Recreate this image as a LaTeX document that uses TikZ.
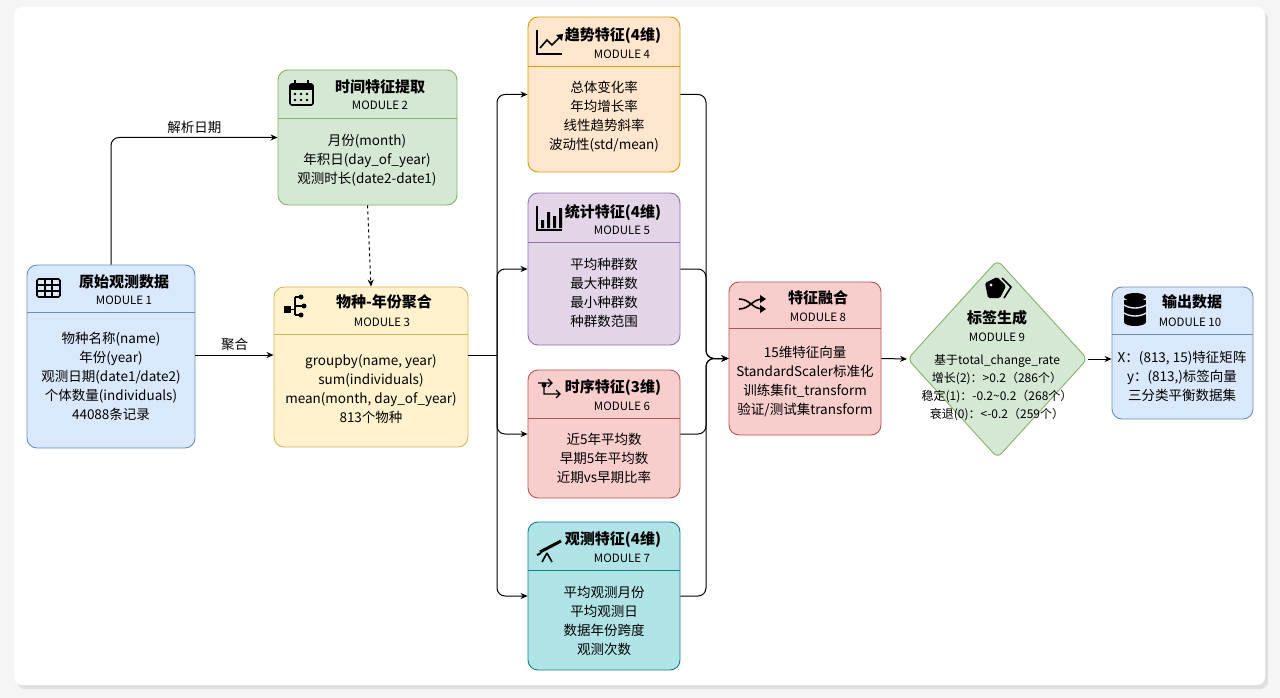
\documentclass[tikz,border=0pt]{standalone}
\usepackage{fontspec}
\setmainfont{Noto Sans CJK SC}
\usetikzlibrary{shapes.geometric,arrows.meta,calc}
\definecolor{bF}{HTML}{DAE8FC}\definecolor{bD}{HTML}{6C8EBF}
\definecolor{gF}{HTML}{D5E8D4}\definecolor{gD}{HTML}{82B366}
\definecolor{yF}{HTML}{FFF2CC}\definecolor{yD}{HTML}{D6B656}
\definecolor{oF}{HTML}{FFE6CC}\definecolor{oD}{HTML}{D79B00}
\definecolor{pF}{HTML}{E1D5E7}\definecolor{pD}{HTML}{9673A6}
\definecolor{rF}{HTML}{F8CECC}\definecolor{rD}{HTML}{B85450}
\definecolor{cF}{HTML}{B0E3E6}\definecolor{cD}{HTML}{0E8088}
\begin{document}
\begin{tikzpicture}[x=1pt,y=-1pt,
 box/.style={draw=#1,rounded corners=10pt,line width=0.9pt,inner sep=0pt},
 ttl/.style={font=\fontsize{15}{17}\selectfont\bfseries},
 mod/.style={font=\fontsize{11.5}{13}\selectfont},
 bd/.style={font=\fontsize{13.5}{16}\selectfont},
 arr/.style={-{Stealth[length=7pt,width=6pt]},line width=1pt,rounded corners=8pt},
 ic/.style={line width=1.6pt,black}]
\fill[gray!8] (0,0) rectangle (1280,698);
\useasboundingbox (0,0) rectangle (1280,698);
\fill[gray!25,rounded corners=8pt] (17,11) rectangle (1268,689);
\fill[white,rounded corners=8pt] (14,7) rectangle (1265,685);
% boxes
\node[box=bD,fill=bF,minimum width=168pt,minimum height=183pt] (m1) at (111,356.5) {};
\node[box=gD,fill=gF,minimum width=179pt,minimum height=135pt] (m2) at (367.5,137.5) {};
\node[box=yD,fill=yF,minimum width=194pt,minimum height=160pt] (m3) at (371,367) {};
\node[box=oD,fill=oF,minimum width=152pt,minimum height=155pt] (m4) at (604,94.5) {};
\node[box=pD,fill=pF,minimum width=152pt,minimum height=152pt] (m5) at (604,269) {};
\node[box=rD,fill=rF,minimum width=152pt,minimum height=128pt] (m6) at (604,434) {};
\node[box=cD,fill=cF,minimum width=152pt,minimum height=148pt] (m7) at (604,596) {};
\node[box=rD,fill=rF,minimum width=152pt,minimum height=153pt] (m8) at (805,358.5) {};
\node[draw=gD,fill=gF,line width=0.9pt,diamond,inner sep=0pt,minimum width=180pt,minimum height=198pt,rounded corners=6pt] (m9) at (997.5,359) {};
\node[box=bD,fill=bF,minimum width=141pt,minimum height=132pt] (m10) at (1182.5,353) {};
% header lines
\coordinate (h1) at (0,312);\coordinate (h2) at (0,118);\coordinate (h3) at (0,334);
\coordinate (h4) at (0,66);\coordinate (h5) at (0,242);\coordinate (h6) at (0,418);
\coordinate (h7) at (0,570);\coordinate (h8) at (0,328);\coordinate (h10) at (0,334);
\foreach \m/\h/\c in {m1/h1/bD,m2/h2/gD,m3/h3/yD,m4/h4/oD,m5/h5/pD,m6/h6/rD,m7/h7/cD,m8/h8/rD,m10/h10/bD}
  \draw[\c,line width=0.9pt] (\m.west|-\h) -- (\m.east|-\h);
% titles
\node[ttl] (t1) at (124,282) {原始观测数据};\node[mod] (u1) at (124,300) {MODULE 1};
\node[ttl] (t2) at (380,87) {时间特征提取};\node[mod] (u2) at (380,105) {MODULE 2};
\node[ttl] (t3) at (384,302) {物种-年份聚合};\node[mod] (u3) at (382,322) {MODULE 3};
\node[ttl] (t4) at (613,36) {趋势特征(4维)};\node[mod] (u4) at (622,54) {MODULE 4};
\node[ttl] (t5) at (613,213) {统计特征(4维)};\node[mod] (u5) at (622,230) {MODULE 5};
\node[ttl] (t6) at (613,388) {时序特征(3维)};\node[mod] (u6) at (622,406) {MODULE 6};
\node[ttl] (t7) at (613,540) {观测特征(4维)};\node[mod] (u7) at (622,558) {MODULE 7};
\node[ttl] (t8) at (818,298) {特征融合};\node[mod] (u8) at (818,317) {MODULE 8};
\node[ttl] (t9) at (997,318) {标签生成};\node[mod] (u9) at (997,337) {MODULE 9};
\node[ttl] (t10) at (1192,302) {输出数据};\node[mod] (u10) at (1190,322) {MODULE 10};
% bodies
\node[bd,align=center] (b1) at (111,376) {物种名称(name)\\[3pt]年份(year)\\[3pt]观测日期(date1/date2)\\[3pt]个体数量(individuals)\\[3pt]44088条记录};
\node[bd,align=center] (b2) at (367,160) {月份(month)\\[3pt]年积日(day\_of\_year)\\[3pt]观测时长(date2-date1)};
\node[bd,align=center] (b3) at (371,389) {groupby(name, year)\\[3pt]sum(individuals)\\[3pt]mean(month, day\_of\_year)\\[3pt]813个物种};
\node[bd,align=center] (b4) at (604,117) {总体变化率\\[3pt]年均增长率\\[3pt]线性趋势斜率\\[3pt]波动性(std/mean)};
\node[bd,align=center] (b5) at (604,293) {平均种群数\\[3pt]最大种群数\\[3pt]最小种群数\\[3pt]种群数范围};
\node[bd,align=center] (b6) at (604,458) {近5年平均数\\[3pt]早期5年平均数\\[3pt]近期vs早期比率};
\node[bd,align=center] (b7) at (604,621) {平均观测月份\\[3pt]平均观测日\\[3pt]数据年份跨度\\[3pt]观测次数};
\node[bd,align=center] (b8) at (805,382) {15维特征向量\\[3pt]StandardScaler标准化\\[3pt]训练集fit\_transform\\[3pt]验证/测试集transform};
\node[font=\fontsize{12}{14}\selectfont,align=center] (b9) at (997,388) {基于total\_change\_rate\\[4pt]增长(2)：>0.2（286个）\\[4pt]稳定(1)：-0.2\textasciitilde0.2（268个）\\[4pt]衰退(0)：<-0.2（259个）};
\node[bd,align=center] (b10) at (1182,376) {X：(813, 15)特征矩阵\\[3pt]y：(813,)标签向量\\[3pt]三分类平衡数据集};
% icons
\begin{scope}[ic]
 \draw[rounded corners=1.5pt] (37,279) rectangle (60,297); \draw (37,285)--(60,285) (37,291)--(60,291) (45,279)--(45,297) (52,279)--(52,297);
 \draw[rounded corners=2pt] (290,84) rectangle (313,105); \fill (290,84) rectangle (313,90); \draw (295,80)--(295,86) (308,80)--(308,86);
 \foreach \a/\b in {295/94,301/94,307/94,295/100,301/100,307/100} \fill (\a,\b) circle (1.3pt);
 \fill (284,306) rectangle (291,313); \fill (301,297) circle (2.5pt) (304,306) circle (2.5pt) (301,315) circle (2.5pt);
 \draw[line width=1.2pt] (291,309.5) -- (295,309.5) (295,297)--(295,315) (295,297)--(301,297) (295,306)--(304,306) (295,315)--(301,315);
 \draw (537,30)--(537,54)--(562,54); \draw (540,48)--(547,40)--(552,45)--(561,36); \fill (563,34)--(556,35)--(562,41)--cycle;
 \draw (537,206)--(537,230)--(562,230); \fill (541,220) rectangle (544,228) (547,212) rectangle (550,228) (553,216) rectangle (556,228) (559,208) rectangle (562,228);
 \draw[line width=1.3pt] (538,383)--(552,383) (548,379)--(552,383)--(548,387) (544,383) -- (544,394) -- (560,394) (556,390)--(560,394)--(556,398); \fill (544,385) circle (2.5pt);
 \draw[line width=3pt] (540,552)--(561,541); \draw (547,553)--(542,562) (547,553)--(552,562); \draw[line width=2pt] (537,555)--(541,553);
 \draw (739,309) .. controls (750,309) and (752,299) .. (763,299) (739,299) .. controls (750,299) and (752,309) .. (763,309);
 \fill (766,299)--(760,295)--(760,303)--cycle (766,309)--(760,305)--(760,313)--cycle;
 \fill[rounded corners=1.5pt] (985,283)--(997,277)--(1006,286)--(1000,298)--(988,298)--cycle; \fill[gF] (991,285) circle (1.7pt);
 \draw (1002,278)--(1011,287)--(1004,298);
 \fill (1135,297) ellipse (11pt and 4pt); \fill (1124,300) rectangle (1146,322); \fill (1135,322) ellipse (11pt and 4pt);
 \draw[bF,line width=1.4pt] (1124,305) .. controls (1130,309) and (1140,309) .. (1146,305) (1124,313) .. controls (1130,317) and (1140,317) .. (1146,313);
\end{scope}
% connectors
\coordinate (j0) at (0,355); \coordinate (j1) at (497,355); \coordinate (j2) at (706,358.5);
\draw[arr] (m1.north) |- node[pos=0.75,above,bd] {解析日期} (m2.west);
\draw[arr] (m1.east|-j0) -- node[above,bd] {聚合} (m3.west|-j0);
\draw[arr,dashed] (m2.south) -- (m3.north);
\draw[line width=1pt] (m3.east|-j0) -- (j1);
\foreach \m in {m4,m5,m6,m7} {\draw[arr] (j1) |- (\m.west); \draw[arr] (\m.east) -| (j2) -- (m8.west);}
\draw[arr] (m8.east) -- (m9.west);
\draw[arr] (m9.east) -- (m10.west|-m9.east);
\end{tikzpicture}
\end{document}
